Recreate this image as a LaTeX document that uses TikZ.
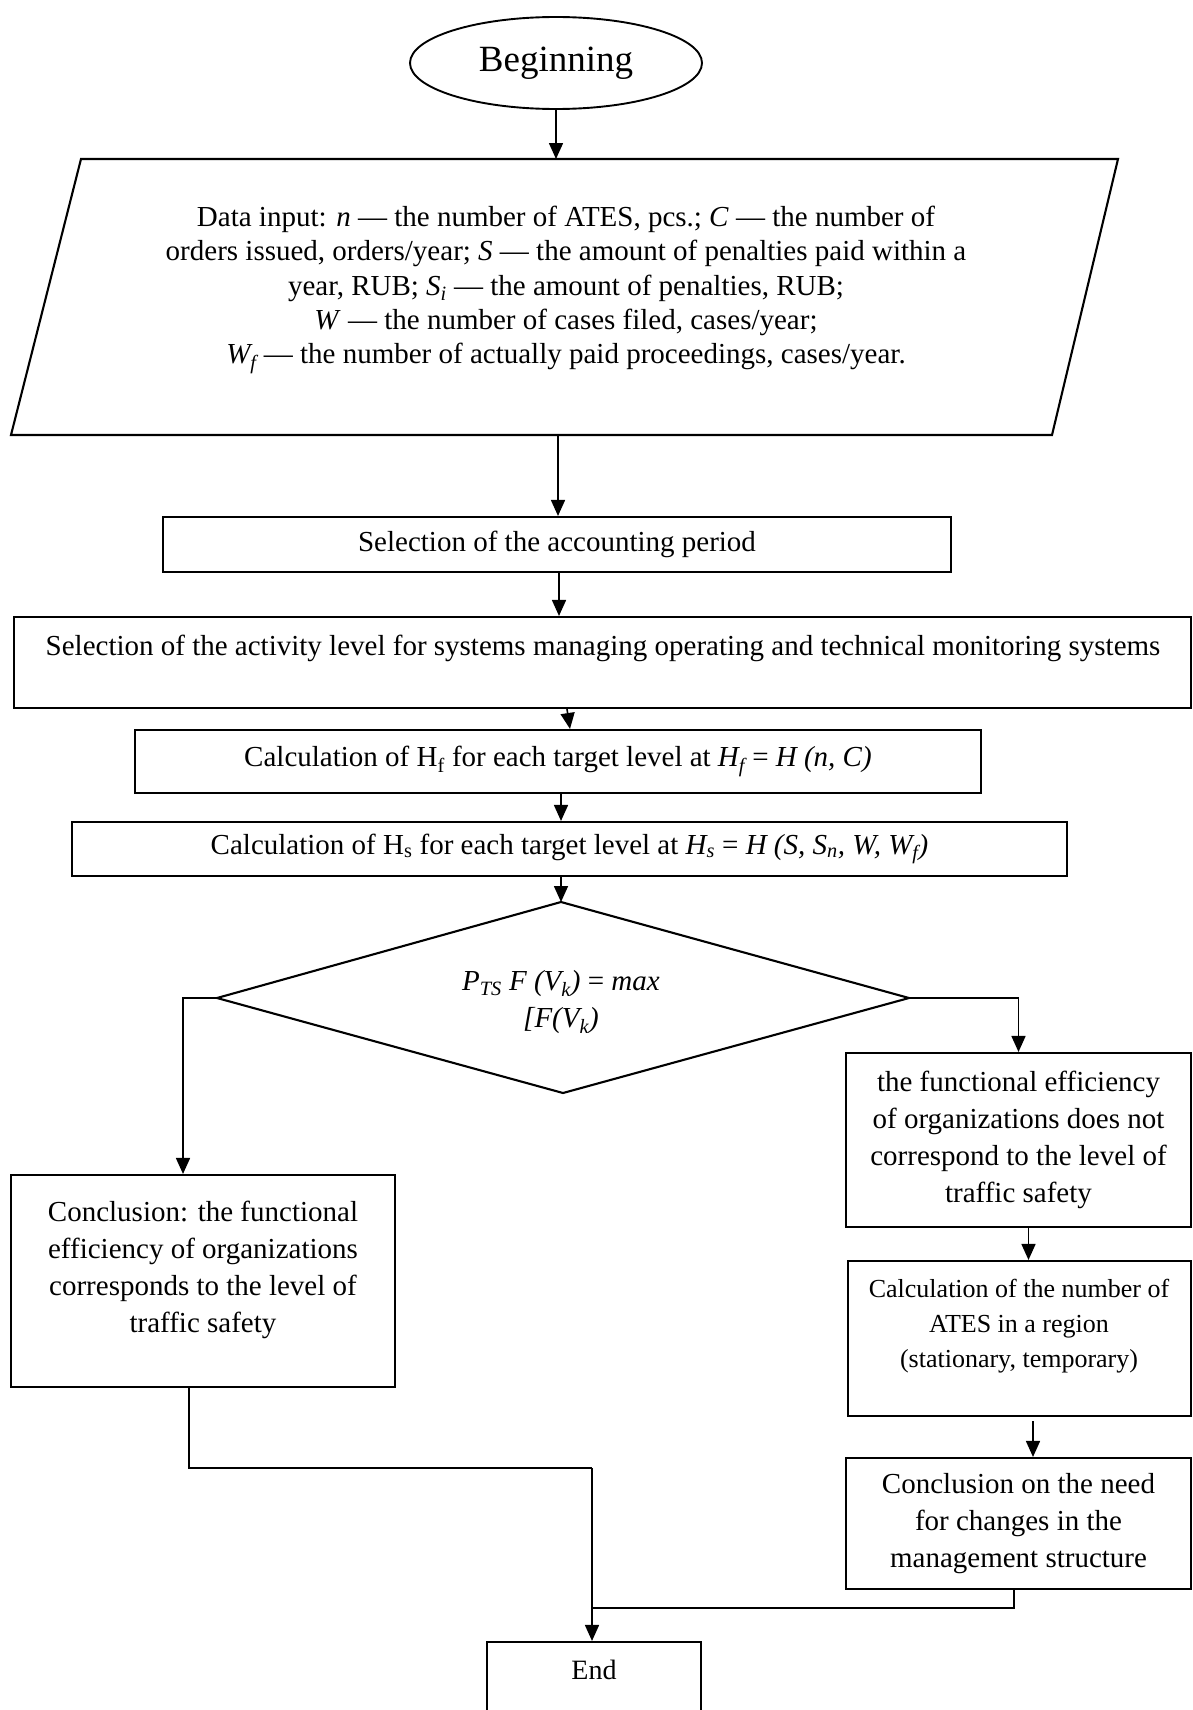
\documentclass[tikz,border=0pt]{standalone}
\usepackage{fontspec}
\setmainfont{Liberation Serif}
\usetikzlibrary{shapes.geometric,arrows.meta,calc}
\begin{document}
\begin{tikzpicture}[x=1pt,y=-1pt,
  box/.style={draw, line width=2.1pt, rectangle, inner sep=0pt, align=center, font=\fontsize{29}{37}\selectfont},
  arr/.style={line width=1.6pt, -{Triangle[length=16pt,width=14pt]}},
  conn/.style={line width=1.5pt},
  txt/.style={inner sep=0pt, align=center, font=\fontsize{29}{37}\selectfont},
]
\clip (0,0) rectangle (1192,1710);
\fill[white] (0,0) rectangle (1192,1710);

% start
\node[ellipse, draw, line width=1.9pt, minimum width=292pt, minimum height=92pt, inner sep=0pt,
      font=\fontsize{37}{44}\selectfont] (start) at (556,63) {Beginning};

% data input parallelogram
\coordinate (pTL) at (81,159);
\coordinate (pTR) at (1118,159);
\coordinate (pBR) at (1052,435);
\coordinate (pBL) at (11,435);
\draw[line width=2.1pt] (pTL) -- (pTR) -- (pBR) -- (pBL) -- cycle;
\coordinate (dtop) at (556,159);
\coordinate (dbot) at (558,435);
\node[txt, font=\fontsize{29}{34.2}\selectfont] (data) at (566,290) {Data input: \textit{n} — the number of ATES, pcs.; \textit{C} — the number of\\
orders issued, orders/year; \textit{S} — the amount of penalties paid within a\\
year, RUB; \textit{S\textsubscript{i}} — the amount of penalties, RUB;\\
\textit{W} — the number of cases filed, cases/year;\\
\textit{W\textsubscript{f}} — the number of actually paid proceedings, cases/year.};

% boxes
\node[box, minimum width=788pt, minimum height=55pt] (b1) at (557,544.5) {Selection of the accounting period};
\node[box, minimum width=1177pt, minimum height=91pt] (b2) at (602.5,662.5) {};
\node[txt] (b2t) at (603,648) {Selection of the activity level for systems managing operating and technical monitoring systems};
\node[box, minimum width=846pt, minimum height=63pt] (b3) at (558,761.5) {Calculation of H\textsubscript{f} for each target level at \textit{H\textsubscript{f}} = \textit{H (n, C)}};
\node[box, minimum width=995pt, minimum height=54pt] (b4) at (569.5,849) {Calculation of H\textsubscript{s} for each target level at \textit{H\textsubscript{s}} = \textit{H (S, S\textsubscript{n}, W, W\textsubscript{f})}};

% decision
\coordinate (dT) at (561,902);
\coordinate (dL) at (217,998);
\coordinate (dR) at (909,998);
\coordinate (dB) at (563,1093);
\draw[line width=2.1pt, line join=miter] (dT) -- (dR) -- (dB) -- (dL) -- cycle;
\node[txt] (dia) at (561,1002)
      {\textit{P\textsubscript{TS} F (V\textsubscript{k})} = \textit{max}\\ \textit{[F(V\textsubscript{k})}};

% left branch
\node[box, minimum width=384pt, minimum height=212pt] (L) at (203,1281) {};
\node[txt] (Lt) at (203,1270) {Conclusion: the functional\\ efficiency of organizations\\ corresponds to the level of\\ traffic safety};

% right branch
\node[box, minimum width=345pt, minimum height=174pt] (R1) at (1018.5,1140) {the functional efficiency\\ of organizations does not\\ correspond to the level of\\ traffic safety};
\node[box, minimum width=343pt, minimum height=155pt] (R2) at (1019.5,1338.5) {};
\node[txt, font=\fontsize{26}{35}\selectfont] (R2t) at (1019,1326) {Calculation of the number of\\ ATES in a region\\ (stationary, temporary)};
\node[box, minimum width=345pt, minimum height=131pt] (R3) at (1018.5,1523.5) {Conclusion on the need\\ for changes in the\\ management structure};

% end
\node[box, minimum width=214pt, minimum height=90pt] (E) at (594,1687) {};
\node[txt, font=\fontsize{28}{34}\selectfont] (Et) at (594,1670) {End};

% connectors
\draw[arr] (start) -- (dtop);
\draw[arr] (dbot) -- (dbot |- b1.north);
\draw[arr] ($(b1.south)+(2,0)$) -- ($(b1.south |- b2.north)+(2,0)$);
\draw[arr] ($(b2.south)+(-35.5,0)$) -- ($(b3.north)+(12,0)$);
\draw[arr] ($(b3.south)+(3,0)$) -- ($(b3.south |- b4.north)+(3,0)$);
\draw[arr] (b4.south -| dT) -- (dT);
\draw[arr] (dL) -| ($(L.north)+(-20,0)$);
\draw[arr] (dR) -| (R1.north);
\draw[arr] ($(R1.south)+(10,0)$) -- ($(R1.south |- R2.north)+(10,0)$);
\draw[arr] ($(R2.south)+(13.5,4)$) -- ($(R2.south |- R3.north)+(13.5,0)$);
\coordinate (j1) at (592,1468);
\coordinate (j2) at (592,1608);
\draw[conn] ($(L.south)+(-14,0)$) |- (j1);
\draw[arr] (j1) -- (j1 |- E.north);
\draw[conn] ($(R3.south)+(-4.5,0)$) |- (j2);
\end{tikzpicture}
\end{document}
